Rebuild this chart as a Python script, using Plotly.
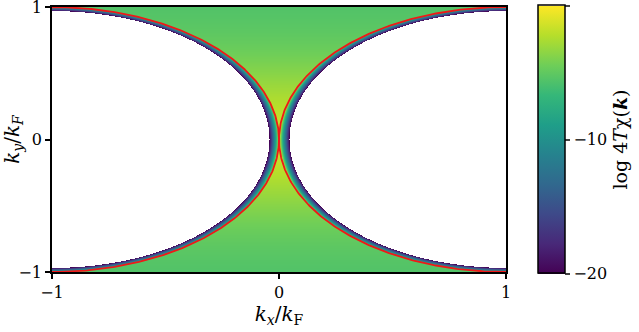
import numpy as np
import plotly.graph_objects as go

# Fermi circles (shifted by +/- kF along kx), in units of kF
circle_centers_kx = [-1.0, 1.0]
circle_centers_ky = [0.0, 0.0]
fermi_radius = 1.0

# values of log 4T chi
value_at_center = -1.5     # yellow where the circles touch
value_far = -5.8           # green away from the centre strip
center_width_ky = 0.6      # ky extent of the yellow strip
decay_inside = 420.0       # drop per unit kF inside the circles
z_floor = -20.0            # below this the map is left blank

tick_vals = [-1, 0, 1]
tick_text = ['\u22121', '0', '1']
cbar_ticks = [0, -10, -20]

kx = np.linspace(-1, 1, 455)
ky = np.linspace(-1, 1, 267)
KX, KY = np.meshgrid(kx, ky)

# signed distance outside the nearest circle
dist = np.full(KX.shape, np.inf)
for cx, cy in zip(circle_centers_kx, circle_centers_ky):
    dist = np.minimum(dist, np.hypot(KX - cx, KY - cy) - fermi_radius)

base = value_far + (value_at_center - value_far) * np.exp(-(KY / center_width_ky) ** 2)
z = np.where(dist >= 0, base, base + decay_inside * dist)
z = np.where(z < z_floor, np.nan, np.round(z, 2))

font = dict(family='DejaVu Serif', size=16, color='black')
title_font = dict(font, size=20)

fig = go.Figure()
fig.add_trace(go.Heatmap(
    x=kx, y=ky, z=z,
    colorscale='Viridis', zmin=-20, zmax=0,
    hoverongaps=False,
    colorbar=dict(
        x=1.07, xanchor='left', xpad=0, y=0.5, len=1.01, ypad=0, thickness=27,
        outlinecolor='black', outlinewidth=1.5,
        tickvals=cbar_ticks, ticks='outside', ticklen=5, tickwidth=1.5,
        tickfont=font,
        title=dict(text='log 4<i>T</i>\u03c7(<b><i>k</i></b>)', side='right', font=dict(font, size=19)),
    ),
))

theta = np.linspace(0, 2 * np.pi, 721)
for cx, cy in zip(circle_centers_kx, circle_centers_ky):
    fig.add_trace(go.Scatter(
        x=cx + fermi_radius * np.cos(theta),
        y=cy + fermi_radius * np.sin(theta),
        mode='lines', line=dict(color='#f01818', width=1.8),
        showlegend=False, hoverinfo='skip',
    ))

axis_style = dict(
    range=[-1, 1], tickvals=tick_vals, ticktext=tick_text,
    ticks='outside', ticklen=5, tickwidth=1.5, tickcolor='black',
    showline=True, linecolor='black', linewidth=1.5, mirror=True,
    showgrid=False, zeroline=False, ticklabeloverflow='allow',
    tickfont=font,
)

fig.update_layout(
    width=639, height=332,
    margin=dict(l=52, r=133, t=7, b=60, autoexpand=False),
    plot_bgcolor='white', paper_bgcolor='white',
    xaxis=dict(axis_style, title=dict(text='<i>k<sub>x</sub></i>/<i>k</i><sub>F</sub>', standoff=0,
                                      font=title_font)),
    yaxis=dict(axis_style, title=dict(text='<i>k<sub>y</sub></i>/<i>k<sub>F</sub></i>', standoff=2,
                                      font=title_font)),
)

# the page body has a default 8px margin; drop it so the figure sits at the window corner
fig.write_html("out.html", config={'displayModeBar': False},
               post_script="document.body.style.margin = '0px';")
